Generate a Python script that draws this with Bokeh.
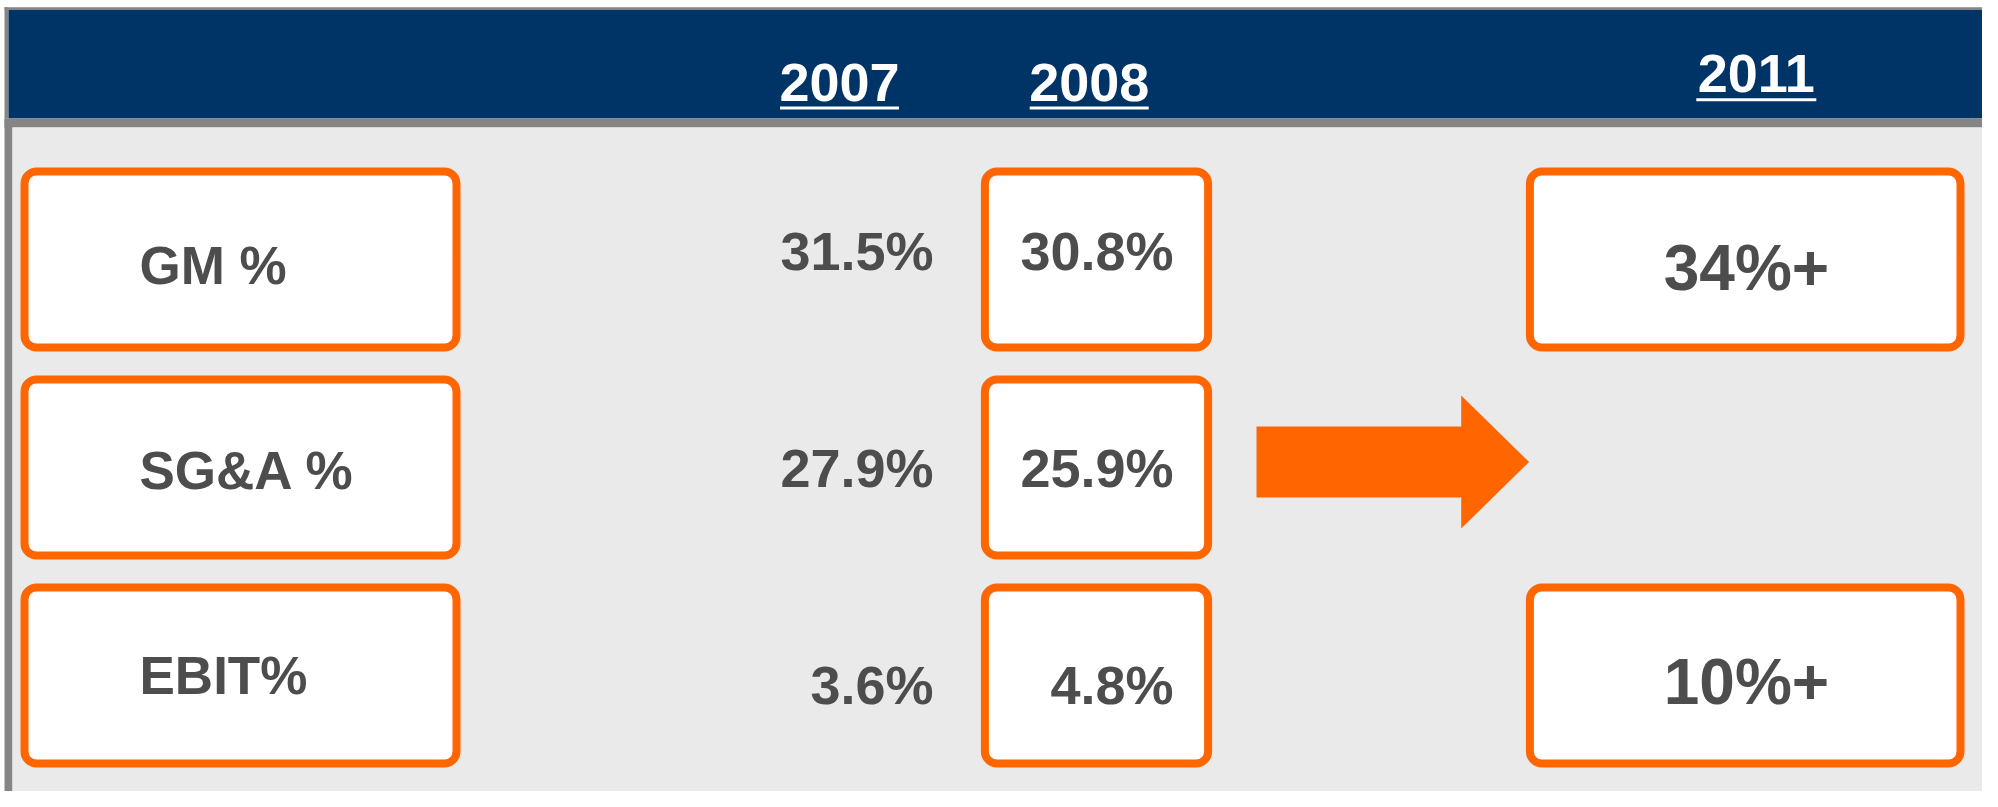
from bokeh.plotting import figure
from bokeh.models import Range1d, ColumnDataSource
from bokeh.embed import file_html
from bokeh.resources import INLINE
from bokeh.core.properties import value

# ---- data ----
metrics = ["GM %", "SG&A %", "EBIT%"]
years = ["2007", "2008", "2011"]
vals_2007 = ["31.5%", "27.9%", "3.6%"]
vals_2008 = ["30.8%", "25.9%", "4.8%"]
vals_2011 = ["34%+", "", "10%+"]

# ---- style ----
NAVY = "#003366"
ORANGE = "#FF6600"
GRAY = "#858585"
BG = "#EAEAEA"
TXT = "#4D4D4D"
FONT = value("Liberation Sans")

# ---- layout (pixels) ----
W, H = 1982, 791
TS = -20  # baseline compensation for text rendering
ROW_TOP0 = 171
ROW_STEP = 208
BOX_H = 176
LABEL_BOX = (24, 456)
BOX_2008 = (984.4, 1207.6)
BOX_2011 = (1529.4, 1960)
LABEL_X = 139
LABEL_DY = [26, 23, 20]
V2007_X = 933
V2008_X = 1173
VAL_DY = [11, 20, 29]
V2011_X = 1746
V2011_DY = [28, 0, 26.7]
HEAD_X = [839, 1088.7, 1755.8]
HEAD_BASE = [102, 102, 93]
HEAD_UL = [107.5, 107.5, 99.3]
HEAD_HALF = [59.5, 59.5, 60]

p = figure(width=W, height=H,
           x_range=Range1d(0, W), y_range=Range1d(H, 0),
           output_backend="svg", toolbar_location=None,
           x_axis_location=None, y_axis_location=None,
           min_border=0, background_fill_color="white", border_fill_color="white")
p.grid.visible = False
p.outline_line_color = None

# background panels
p.quad(left=[4], right=[2000], top=[6.7], bottom=[9.3], fill_color=GRAY, line_color=None)
p.quad(left=[4], right=[8], top=[6.7], bottom=[118], fill_color=GRAY, line_color=None)
p.quad(left=[8], right=[2000], top=[9.3], bottom=[118], fill_color=NAVY, line_color=None)
p.quad(left=[4], right=[2000], top=[118], bottom=[127], fill_color=GRAY, line_color=None)
p.quad(left=[4], right=[12], top=[118], bottom=[810], fill_color=GRAY, line_color=None)
p.quad(left=[12], right=[2000], top=[127], bottom=[810], fill_color=BG, line_color=None)

n = len(metrics)
tops = [ROW_TOP0 + i * ROW_STEP for i in range(n)]
bots = [t + BOX_H for t in tops]
cens = [(t + b) / 2 for t, b in zip(tops, bots)]

def boxes(x, rows):
    src = ColumnDataSource(dict(left=[x[0]] * len(rows), right=[x[1]] * len(rows),
                                top=[tops[i] for i in rows], bottom=[bots[i] for i in rows]))
    p.quad(left="left", right="right", top="top", bottom="bottom", source=src,
           fill_color="white", line_color=ORANGE, line_width=8, border_radius=12)

boxes(LABEL_BOX, list(range(n)))
boxes(BOX_2008, list(range(n)))
boxes(BOX_2011, [i for i in range(n) if vals_2011[i]])

# arrow between 2008 and 2011 at middle row
ay = cens[1] - 5.5
ax = [1256, 1460.7, 1460.7, 1528.6, 1460.7, 1460.7, 1256]
ayy = [ay - 35.5, ay - 35.5, ay - 66.5, ay, ay + 66.5, ay + 35.5, ay + 35.5]
p.patch(ax, ayy, fill_color=ORANGE, line_color=None)

def txt(xs, ys, texts, size, color, align):
    p.text(x=xs, y=[y + TS for y in ys], text=texts, text_font=FONT, text_font_style="bold",
           text_font_size=size, text_color=color, text_align=align, text_baseline="alphabetic")

# row labels
txt([LABEL_X] * n, [cens[i] + LABEL_DY[i] for i in range(n)], metrics, "53px", TXT, "left")
# 2007 / 2008 values
txt([V2007_X] * n, [cens[i] + VAL_DY[i] for i in range(n)], vals_2007, "54px", TXT, "right")
txt([V2008_X] * n, [cens[i] + VAL_DY[i] for i in range(n)], vals_2008, "54px", TXT, "right")
# 2011 targets
r11 = [i for i in range(n) if vals_2011[i]]
txt([V2011_X] * len(r11), [cens[i] + V2011_DY[i] for i in r11], [vals_2011[i] for i in r11], "64px", TXT, "center")

# headers with underline
txt(HEAD_X, HEAD_BASE, years, "54px", "white", "center")
p.segment(x0=[c - h for c, h in zip(HEAD_X, HEAD_HALF)], x1=[c + h for c, h in zip(HEAD_X, HEAD_HALF)],
          y0=HEAD_UL, y1=HEAD_UL, line_color="white", line_width=3)

open("out.html", "w").write(file_html(p, INLINE))
